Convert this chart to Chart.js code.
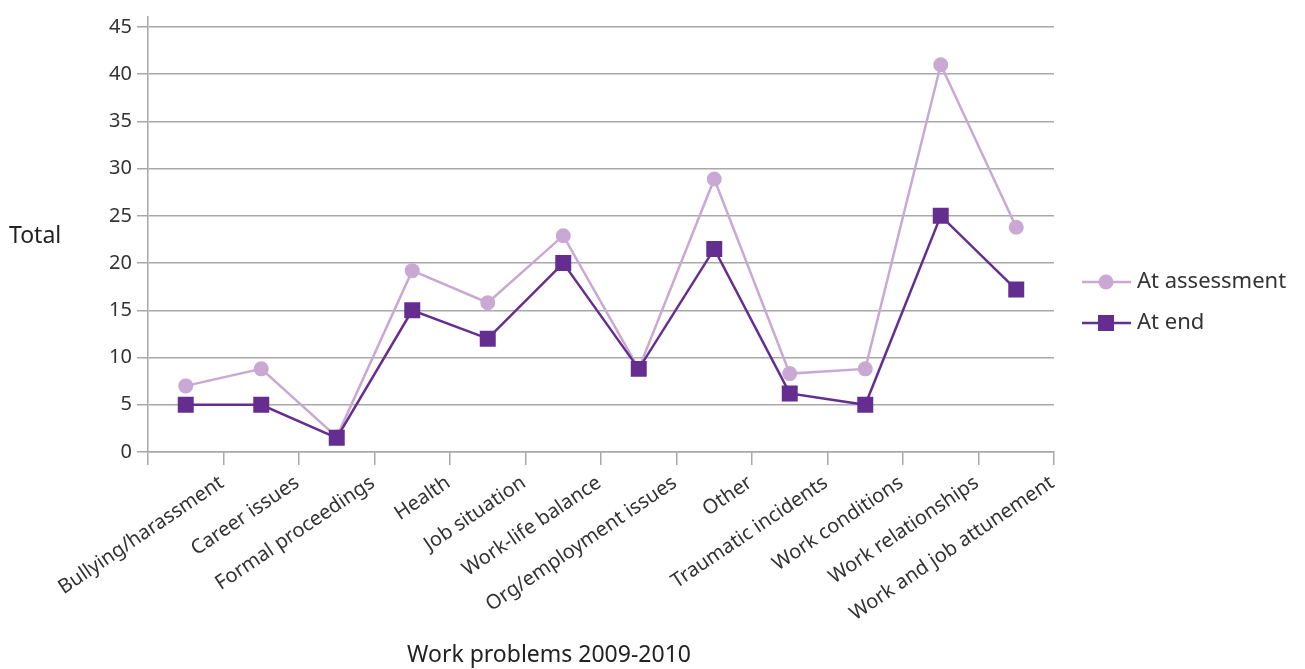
<!DOCTYPE html>
<html>
<head>
<meta charset="utf-8">
<script src="https://cdn.jsdelivr.net/npm/chart.js@4.4.1/dist/chart.umd.min.js"></script>
<style>
  html, body { margin: 0; padding: 0; background: #fff; }
  #wrap { width: 1305px; height: 669px; position: relative; }
</style>
</head>
<body>
<div id="wrap"><canvas id="workChart"></canvas></div>
<script>
const categories = [
  'Bullying/harassment', 'Career issues', 'Formal proceedings', 'Health',
  'Job situation', 'Work-life balance', 'Org/employment issues', 'Other',
  'Traumatic incidents', 'Work conditions', 'Work relationships', 'Work and job attunement'
];
const atAssessment = [7, 8.8, 1.6, 19.2, 15.8, 22.9, 8.8, 28.9, 8.3, 8.8, 41, 23.8];
const atEnd = [5, 5, 1.5, 15, 12, 20, 8.8, 21.5, 6.2, 5, 25, 17.2];
const yTicks = [0, 5, 10, 15, 20, 25, 30, 35, 40, 45];

const lightPurple = '#c9a9d3';
const darkPurple = '#662d91';
const textColor = '#333333';
const gridColor = '#a8a8a8';
const fontFamily = '"Noto Sans", "Open Sans", sans-serif';

// axis titles drawn flat, plus the legend on the right
const extrasPlugin = {
  id: 'extras',
  afterDraw(chart) {
    const ctx = chart.ctx;
    ctx.save();
    ctx.fillStyle = '#222';
    ctx.font = '23px ' + fontFamily;
    ctx.textBaseline = 'middle';
    ctx.textAlign = 'left';
    ctx.fillText('Total', 9, 236);
    ctx.textAlign = 'center';
    ctx.fillText('Work problems 2009-2010', 549, 655);

    const items = [
      { label: 'At assessment', color: lightPurple, style: 'circle', y: 282 },
      { label: 'At end', color: darkPurple, style: 'rect', y: 323 }
    ];
    ctx.font = '22px ' + fontFamily;
    items.forEach(it => {
      ctx.strokeStyle = it.color;
      ctx.lineWidth = 2.5;
      ctx.beginPath();
      ctx.moveTo(1082, it.y);
      ctx.lineTo(1131, it.y);
      ctx.stroke();
      ctx.fillStyle = it.color;
      if (it.style === 'circle') {
        ctx.beginPath();
        ctx.arc(1106, it.y, 7.5, 0, Math.PI * 2);
        ctx.fill();
      } else {
        ctx.fillRect(1098, it.y - 8, 16, 16);
      }
      ctx.fillStyle = textColor;
      ctx.textAlign = 'left';
      ctx.fillText(it.label, 1137, it.y);
    });
    ctx.restore();
  }
};

const ctx = document.getElementById('workChart').getContext('2d');
new Chart(ctx, {
  type: 'line',
  data: {
    labels: categories,
    datasets: [
      {
        label: 'At assessment',
        data: atAssessment,
        borderColor: lightPurple,
        backgroundColor: lightPurple,
        borderWidth: 2.5,
        pointStyle: 'circle',
        pointRadius: 7.5,
        pointHoverRadius: 7.5,
        pointBorderWidth: 0,
        tension: 0,
        order: 1
      },
      {
        label: 'At end',
        data: atEnd,
        borderColor: darkPurple,
        backgroundColor: darkPurple,
        borderWidth: 2.5,
        pointStyle: 'rect',
        pointRadius: 11.3,
        pointHoverRadius: 11.3,
        pointBorderWidth: 0,
        tension: 0,
        order: 0
      }
    ]
  },
  options: {
    responsive: true,
    maintainAspectRatio: false,
    animation: false,
    layout: { padding: { left: 0, right: 251, top: 0, bottom: 0 } },
    plugins: {
      legend: { display: false },
      tooltip: { enabled: false }
    },
    scales: {
      x: {
        type: 'category',
        offset: true,
        grid: {
          offset: true,
          drawOnChartArea: false,
          drawTicks: true,
          tickLength: 13,
          color: gridColor,
          lineWidth: 1.5
        },
        border: { color: gridColor, width: 1.5 },
        ticks: {
          color: textColor,
          font: { family: fontFamily, size: 20 },
          minRotation: 34,
          maxRotation: 34,
          autoSkip: false,
          labelOffset: 36,
          padding: 6
        },
        afterFit(scale) { scale.height = 217; }
      },
      y: {
        min: 0,
        max: 46.05,
        afterBuildTicks(scale) {
          scale.ticks = yTicks.map(v => ({ value: v }));
        },
        grid: {
          color: gridColor,
          lineWidth: 1.5,
          drawTicks: true,
          tickLength: 11
        },
        border: { color: gridColor, width: 1.5 },
        ticks: {
          color: textColor,
          font: { family: fontFamily, size: 20 },
          padding: 5
        },
        afterFit(scale) { scale.width = 148; }
      }
    }
  },
  plugins: [extrasPlugin]
});
</script>
</body>
</html>
